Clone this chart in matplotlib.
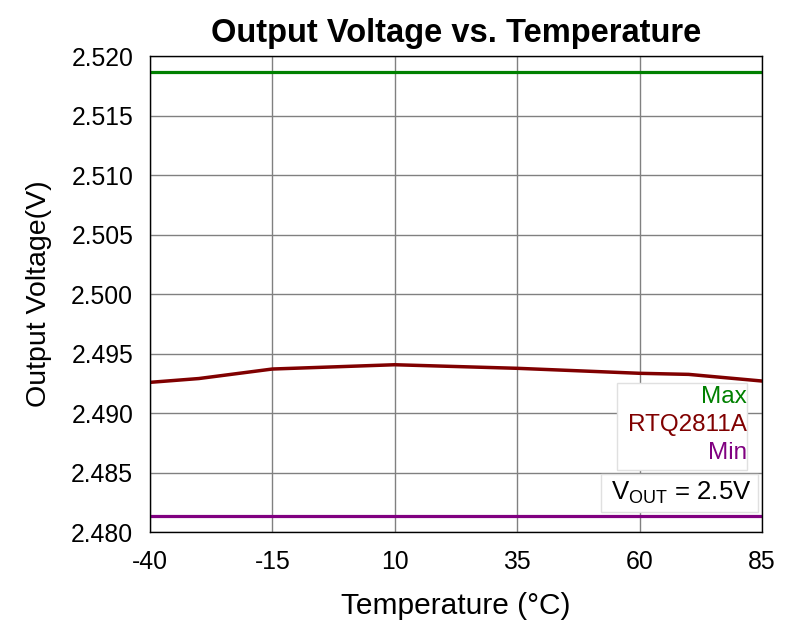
import matplotlib
matplotlib.use("Agg")
import matplotlib.pyplot as plt
from matplotlib.patches import Rectangle

plt.rcParams['font.family'] = ['Liberation Sans', 'DejaVu Sans']
plt.rcParams['axes.unicode_minus'] = False

# data
temp = [-40, -30, -15, 10, 35, 60, 70, 85]
vout = [2.49258, 2.49290, 2.49370, 2.49406, 2.49376, 2.49334, 2.49325, 2.49269]
v_max = 2.51866
v_min = 2.48134

xticks = [-40, -15, 10, 35, 60, 85]
yticks = [2.480, 2.485, 2.490, 2.495, 2.500, 2.505, 2.510, 2.515, 2.520]

fig = plt.figure(figsize=(7.93, 6.23), dpi=100)
ax = fig.add_axes([0.189, 0.146, 0.772, 0.764])

ax.plot([-40, 85], [v_max, v_max], color='#008000', lw=2.3)
ax.plot(temp, vout, color='#800000', lw=2.5, solid_joinstyle='round')
ax.plot([-40, 85], [v_min, v_min], color='#800080', lw=2.3)

ax.set_xlim(-40, 85)
ax.set_ylim(2.480, 2.520)
ax.set_xticks(xticks)
ax.set_yticks(yticks)
ax.set_yticklabels(['%.3f' % v for v in yticks])
ax.tick_params(labelsize=17.8, length=0)
ax.tick_params(axis='x', pad=13)
ax.tick_params(axis='y', pad=12)
ax.grid(True, color='#808080', lw=1)
for s in ax.spines.values():
    s.set_color('black')
    s.set_linewidth(1)

ax.set_title('Output Voltage vs. Temperature', fontsize=23.5, fontweight='bold', pad=10)
ax.set_xlabel('Temperature (°C)', fontsize=21.5, labelpad=13)
ax.set_ylabel('Output Voltage(V)', fontsize=20.5, labelpad=14)

# legend box
fig.patches.append(Rectangle((617 / 793, 1 - 470 / 623), 130 / 793, 87 / 623,
                             transform=fig.transFigure, facecolor='white',
                             edgecolor='#e0e0e0', lw=1, zorder=5))
fig.text(747 / 793, 1 - 397 / 623, 'Max', color='#008000', fontsize=17.5,
         ha='right', va='center', zorder=6)
fig.text(747 / 793, 1 - 425 / 623, 'RTQ2811A', color='#800000', fontsize=17.5,
         ha='right', va='center', zorder=6)
fig.text(747 / 793, 1 - 453 / 623, 'Min', color='#800080', fontsize=17.5,
         ha='right', va='center', zorder=6)

fig.patches.append(Rectangle((601 / 793, 1 - 512 / 623), 157 / 793, 38 / 623,
                             transform=fig.transFigure, facecolor='white',
                             edgecolor='#e0e0e0', lw=1, zorder=5))
fig.text(681 / 793, 1 - 493 / 623, r'V$_{\mathregular{OUT}}$ = 2.5V', color='black',
         fontsize=18.5, ha='center', va='center', zorder=6)

fig.savefig('out.png', dpi=100)
